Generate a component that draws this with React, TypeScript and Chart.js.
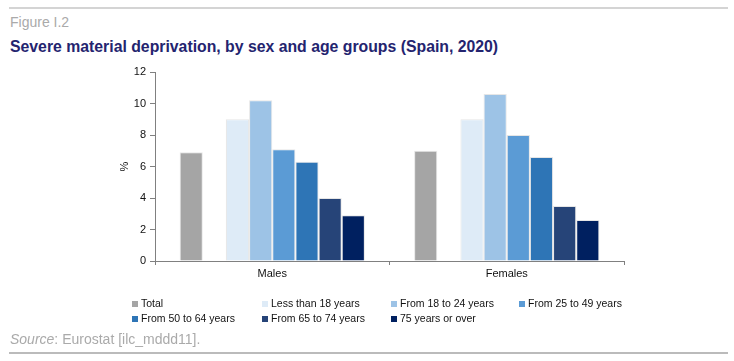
import React, { useEffect, useRef } from "react";
import { Chart, registerables } from "chart.js";

Chart.register(...registerables);

const categories = ["Males", "Females"];
const seriesLabels = [
  "Total",
  "Less than 18 years",
  "From 18 to 24 years",
  "From 25 to 49 years",
  "From 50 to 64 years",
  "From 65 to 74 years",
  "75 years or over",
];
const seriesColors = ["#a5a5a5", "#deebf7", "#9dc3e6", "#5b9bd5", "#2e75b6", "#264478", "#002060"];
const total = [6.9, 7.0];
const lessThan18 = [9.0, 9.0];
const from18to24 = [10.2, 10.6];
const from25to49 = [7.1, 8.0];
const from50to64 = [6.3, 6.6];
const from65to74 = [4.0, 3.5];
const over75 = [2.9, 2.6];
const yTickMin = 0;
const yTickMax = 12;
const yTickStep = 2;

const FONT = '"Liberation Sans", Arial, sans-serif';

export default function App() {
  const canvasRef = useRef<HTMLCanvasElement | null>(null);

  useEffect(() => {
    if (!canvasRef.current) return;
    const seriesData = [total, lessThan18, from18to24, from25to49, from50to64, from65to74, over75];
    const datasets: any[] = [];
    seriesData.forEach((d, i) => {
      datasets.push({
        label: seriesLabels[i],
        data: d,
        backgroundColor: seriesColors[i],
        borderColor: "rgba(210,210,210,0.55)",
        borderWidth: 1,
      });
      if (i === 0) {
        datasets.push({ label: "", data: [null, null], backgroundColor: "transparent" });
      }
    });
    const chart = new Chart(canvasRef.current, {
      type: "bar",
      data: { labels: categories, datasets },
      options: {
        responsive: false,
        animation: false,
        devicePixelRatio: 1,
        layout: { padding: { left: 110, right: 110, top: 72, bottom: 80 } },
        plugins: { legend: { display: false }, tooltip: { enabled: false }, title: { display: false } },
        datasets: { bar: { barPercentage: 1, categoryPercentage: 0.79 } },
        scales: {
          x: {
            grid: { drawOnChartArea: false, tickLength: 4, color: "#808080", offset: true },
            border: { color: "#808080", width: 1 },
            ticks: { color: "#111111", font: { family: FONT, size: 11 }, padding: 2 },
            afterFit: (s: any) => {
              s.height = 20;
            },
          },
          y: {
            min: yTickMin,
            max: yTickMax,
            ticks: { stepSize: yTickStep, color: "#111111", font: { family: FONT, size: 11 }, padding: 4 },
            grid: { drawOnChartArea: false, tickLength: 5, color: "#808080" },
            border: { color: "#808080", width: 1 },
            title: { display: true, text: "%", color: "#111111", font: { family: FONT, size: 11 }, padding: { top: 8, bottom: 0 } },
            afterFit: (s: any) => {
              s.width = 45;
            },
          },
        },
      },
    });
    return () => chart.destroy();
  }, []);

  const colLeft = [132, 262, 391, 519];
  const rowTop = [296, 311];

  return (
    <div style={{ position: "absolute", left: 0, top: 0, width: 734, height: 361, fontFamily: FONT, overflow: "hidden" }}>
      <div style={{ position: "absolute", left: 9, top: 7, width: 719, height: 0, borderTop: "2px solid #d4d4d4" }} />
      <div style={{ position: "absolute", left: 10, top: 14, fontSize: 14, lineHeight: "17px", color: "#aaaaaa" }}>Figure I.2</div>
      <div style={{ position: "absolute", left: 10, top: 37, fontSize: 15.8, lineHeight: "19px", fontWeight: "bold", color: "#24246f", whiteSpace: "nowrap" }}>
        Severe material deprivation, by sex and age groups (Spain, 2020)
      </div>
      <canvas ref={canvasRef} width={734} height={361} style={{ position: "absolute", left: 0, top: 0, width: 734, height: 361 }} />
      {seriesLabels.map((lab, i) => (
        <div
          key={lab}
          style={{
            position: "absolute",
            left: colLeft[i % 4],
            top: rowTop[Math.floor(i / 4)],
            fontSize: 10.5,
            lineHeight: "14px",
            color: "#111111",
            whiteSpace: "nowrap",
          }}
        >
          <span style={{ display: "inline-block", width: 6, height: 6, background: seriesColors[i], marginRight: 3 }} />
          {lab}
        </div>
      ))}
      <div style={{ position: "absolute", left: 10, top: 331, fontSize: 14, lineHeight: "17px", color: "#aaaaaa", whiteSpace: "nowrap" }}>
        <i>Source</i>: Eurostat [ilc_mddd11].
      </div>
      <div style={{ position: "absolute", left: 9, top: 352, width: 719, height: 0, borderTop: "2px solid #bbbbbb" }} />
    </div>
  );
}
